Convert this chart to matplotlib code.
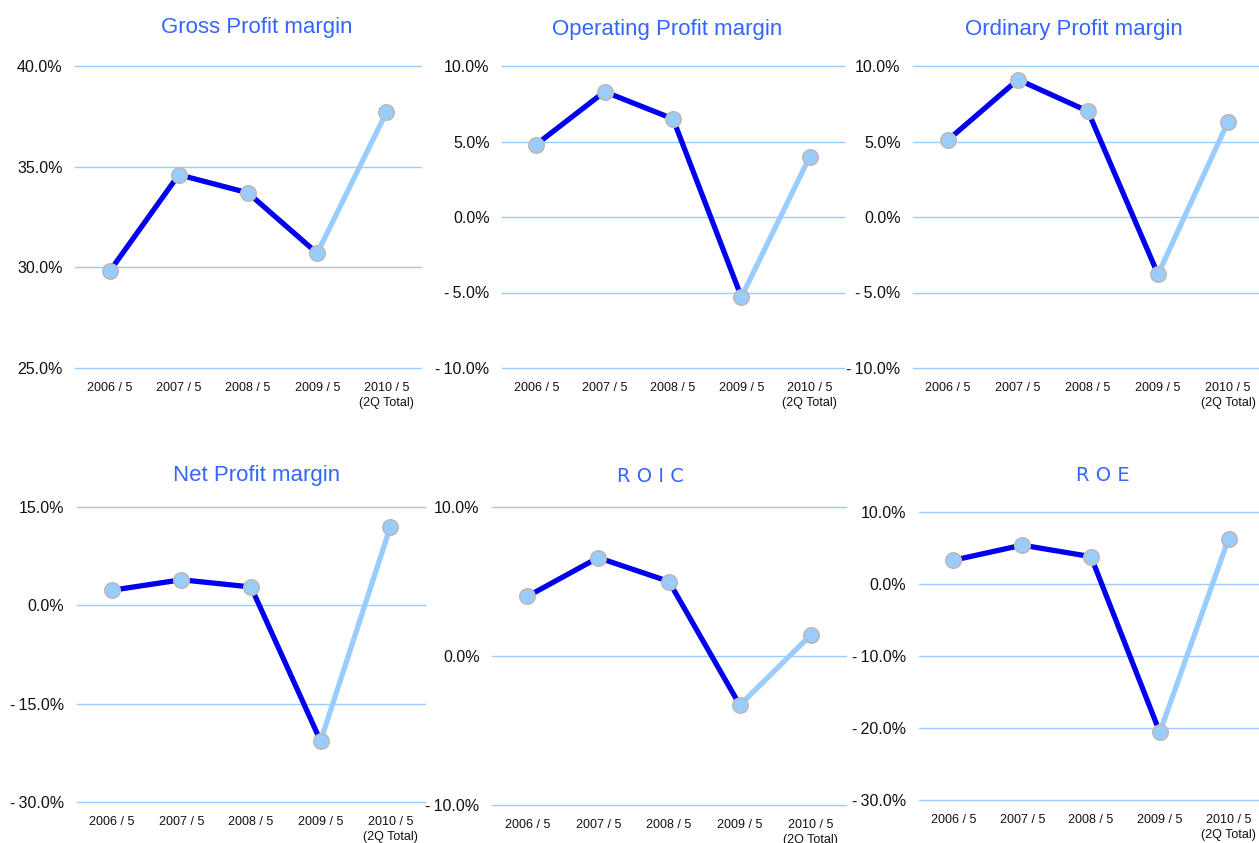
import matplotlib.pyplot as plt
import numpy as np

plt.rcParams['font.family'] = ['Liberation Sans', 'DejaVu Sans']

categories = ['2006 / 5', '2007 / 5', '2008 / 5', '2009 / 5', '2010 / 5\n(2Q Total)']

gross = [29.8, 34.6, 33.7, 30.7, 37.7]
operating = [4.8, 8.3, 6.5, -5.3, 4.0]
ordinary = [5.1, 9.1, 7.0, -3.8, 6.3]
net = [2.3, 3.9, 2.8, -20.7, 11.9]
roic = [4.0, 6.6, 5.0, -3.3, 1.4]
roe = [3.3, 5.4, 3.8, -20.6, 6.3]

gross_ticks = [25, 30, 35, 40]
margin_ticks = [-10, -5, 0, 5, 10]
net_ticks = [-30, -15, 0, 15]
roic_ticks = [-10, 0, 10]
roe_ticks = [-30, -20, -10, 0, 10]

titles = ['Gross Profit margin', 'Operating Profit margin', 'Ordinary Profit margin',
          'Net Profit margin', 'R O I C', 'R O E']

W, H = 1259, 843
DARK = '#0000EE'
LIGHT = '#99CCFF'

fig = plt.figure(figsize=(W / 100, H / 100), dpi=100)


def fmt(v):
    if v < 0:
        return '-\u2009%.1f%%' % abs(v)
    return '%.1f%%' % v


def panel(box, values, ticks, title, tpos, narrow=False):
    x0, y0, x1, y1 = box
    ax = fig.add_axes([x0 / W, 1 - y1 / H, (x1 - x0) / W, (y1 - y0) / H])
    xs = np.arange(len(values))
    ax.plot(xs[:4], values[:4], color=DARK, lw=3.8, solid_capstyle='butt', zorder=2)
    ax.plot(xs[3:], values[3:], color=LIGHT, lw=3.8, solid_capstyle='butt', zorder=2)
    ax.plot(xs, values, 'o', ms=11, mfc=LIGHT, mec='#BBBBBB', mew=1.3, zorder=3)
    for t in ticks:
        ax.axhline(t, color=LIGHT, lw=1.0, zorder=1, clip_on=False)
    ax.set_xlim(-0.5, 4.5)
    ax.set_ylim(ticks[0], ticks[-1])
    ax.set_yticks(ticks)
    ax.set_yticklabels([fmt(t) for t in ticks], fontsize=11.5, color='#111111')
    ax.set_xticks(xs)
    ax.set_xticklabels(categories, fontsize=9, color='#111111', linespacing=1.35)
    ax.tick_params(length=0, axis='y', pad=9)
    ax.tick_params(length=0, axis='x', pad=10)
    for s in ax.spines.values():
        s.set_visible(False)
    ax.patch.set_alpha(0)
    if narrow:
        fig.text(tpos[0] / W, 1 - tpos[1] / H, title, ha='center', va='center',
                 fontsize=14, color='#3366FF',
                 family=['Liberation Sans Narrow', 'DejaVu Sans Condensed', 'DejaVu Sans'])
    else:
        fig.text(tpos[0] / W, 1 - tpos[1] / H, title, ha='center', va='center',
                 fontsize=16, color='#3366FF')
    return ax


panel((75, 66, 421, 368), gross, gross_ticks, titles[0], (257, 27))
panel((502, 66, 844, 368), operating, margin_ticks, titles[1], (667, 29))
panel((913, 66, 1263, 368), ordinary, margin_ticks, titles[2], (1074, 29))
panel((77, 507, 425, 802), net, net_ticks, titles[3], (257, 476))
panel((492, 507, 846, 805), roic, roic_ticks, titles[4], (650, 477), narrow=True)
panel((919, 512, 1263, 800), roe, roe_ticks, titles[5], (1103, 476), narrow=True)

fig.savefig('out.png', dpi=100)
